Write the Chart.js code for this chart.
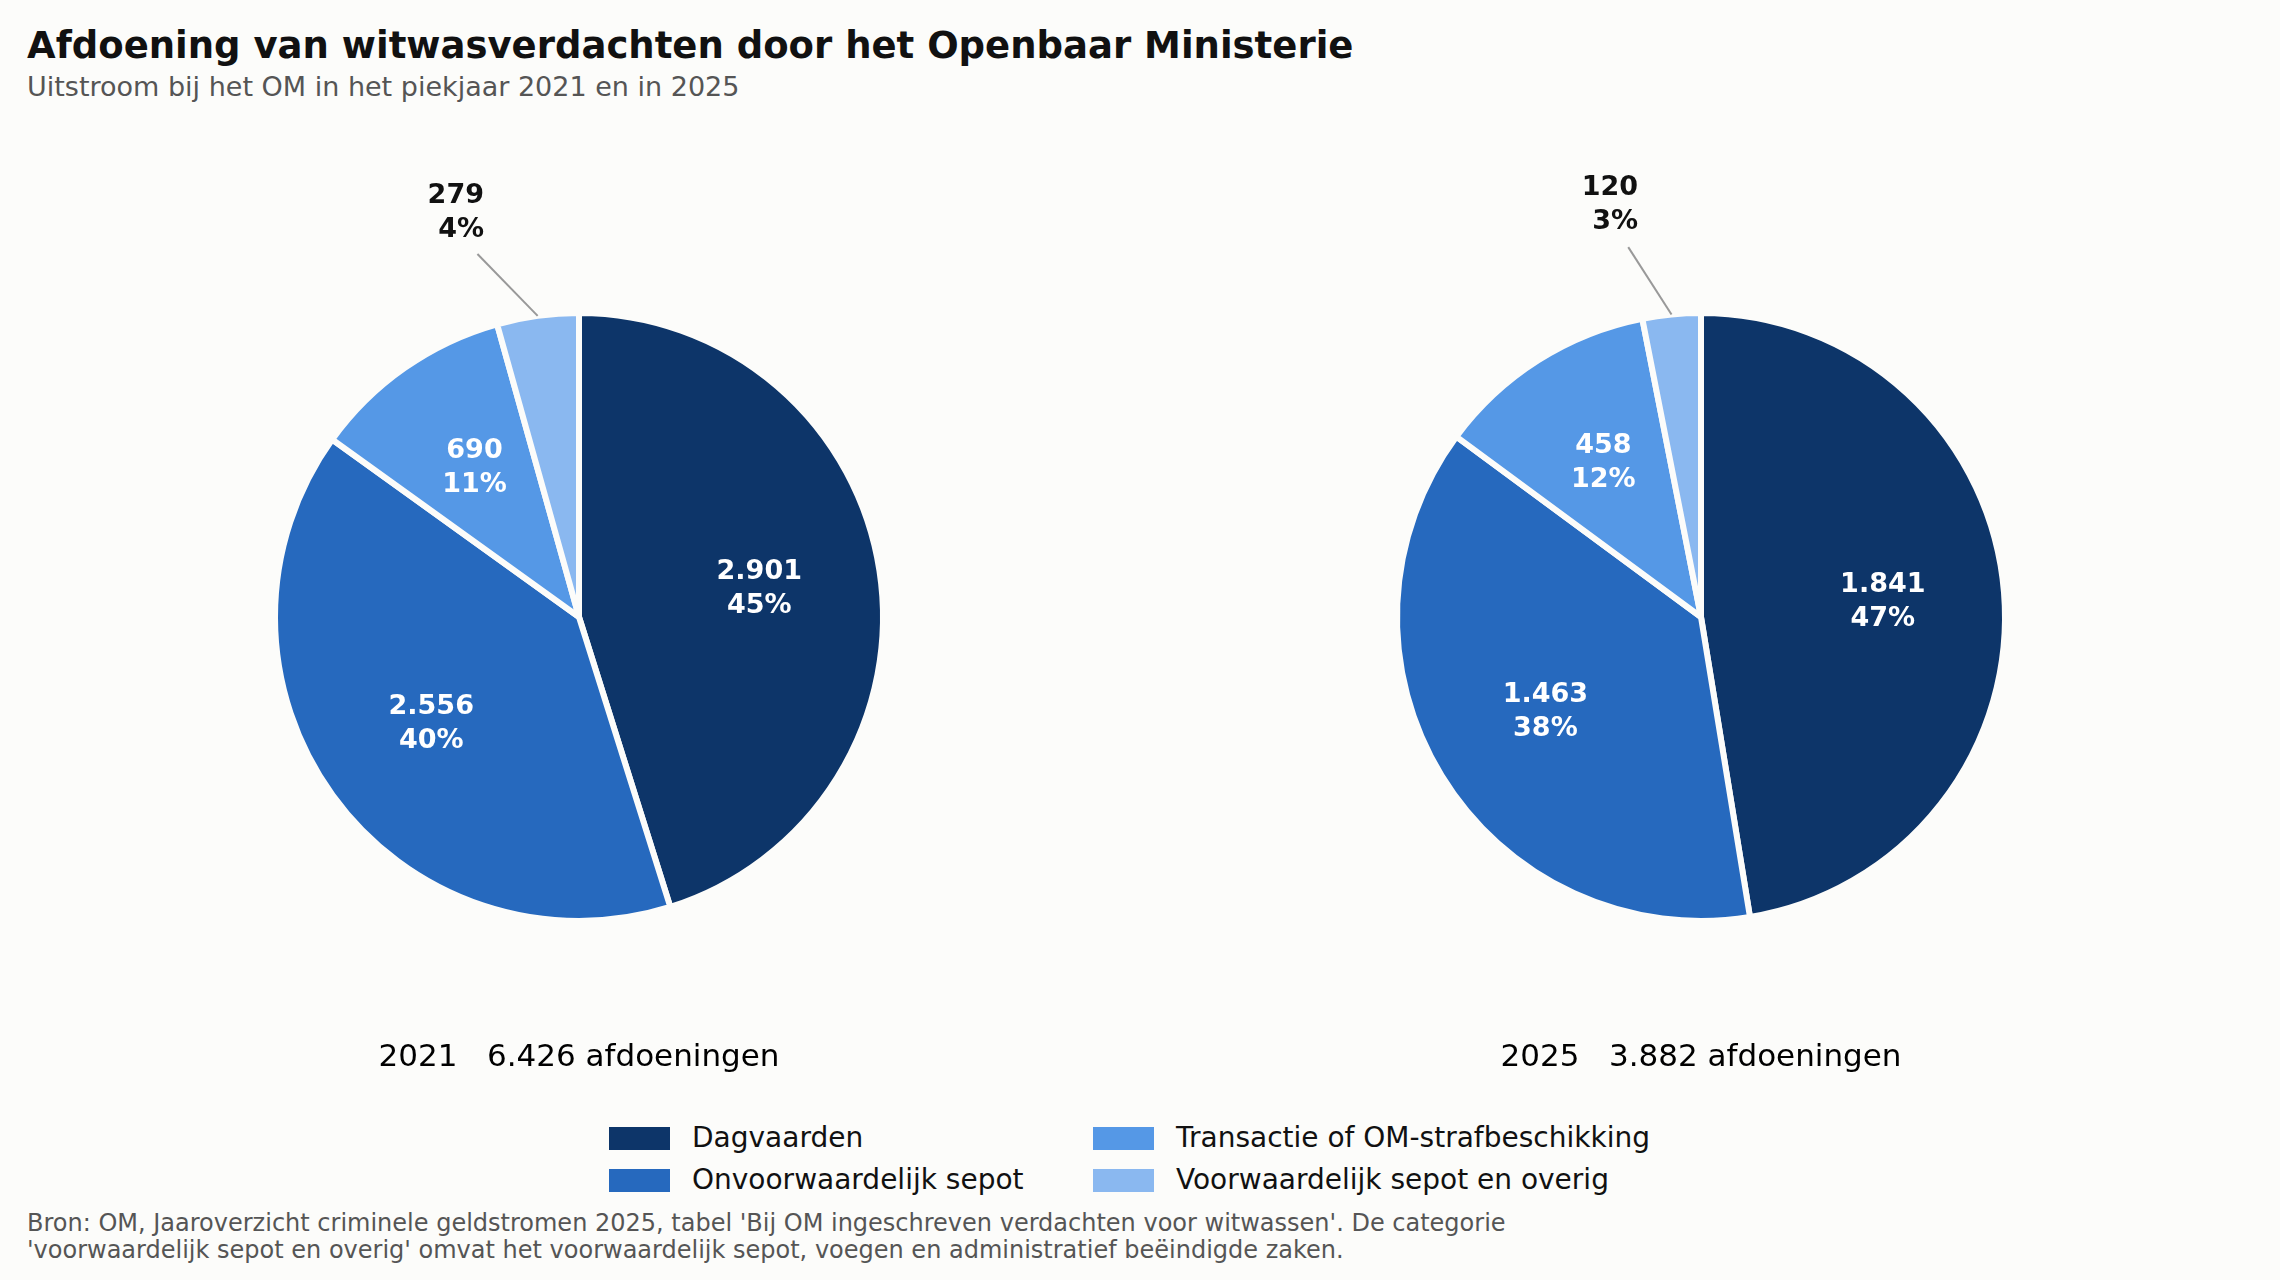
<!DOCTYPE html>
<html><head><meta charset="utf-8">
<script src="https://cdn.jsdelivr.net/npm/chart.js@4"></script>
<style>
body{margin:0;background:#fcfcfa;font-family:"DejaVu Sans",sans-serif;width:2280px;height:1280px;position:relative;overflow:hidden}
.abs{position:absolute;white-space:nowrap}
.box{position:absolute;width:1000px;height:1000px}
.sw{position:absolute;width:61px;height:23px}
</style></head><body>
<div class="abs" style="left:27px;top:24px;font-size:37px;font-weight:bold;color:#111">Afdoening van witwasverdachten door het Openbaar Ministerie</div>
<div class="abs" style="left:27px;top:71px;font-size:27px;color:#555">Uitstroom bij het OM in het piekjaar 2021 en in 2025</div>
<div class="box" style="left:79px;top:117px"><canvas id="c1"></canvas></div>
<div class="box" style="left:1201px;top:117px"><canvas id="c2"></canvas></div>
<div class="abs" id="cap1" style="left:579px;top:1037px;font-size:31px;transform:translateX(-50%)"></div>
<div class="abs" id="cap2" style="left:1701px;top:1037px;font-size:31px;transform:translateX(-50%)"></div>
<div id="legend"></div>
<div class="abs" style="left:27px;top:1210px;font-size:24px;color:#555;line-height:27px">Bron: OM, Jaaroverzicht criminele geldstromen 2025, tabel 'Bij OM ingeschreven verdachten voor witwassen'. De categorie<br>'voorwaardelijk sepot en overig' omvat het voorwaardelijk sepot, voegen en administratief beëindigde zaken.</div>
<script>
const categories = ['Dagvaarden', 'Onvoorwaardelijk sepot', 'Transactie of OM-strafbeschikking', 'Voorwaardelijk sepot en overig'];
const values2021 = [2901, 2556, 690, 279];
const values2025 = [1841, 1463, 458, 120];
const colors = ['#0d3569', '#2669be', '#5598e6', '#8ab8f0'];
const textColors = ['#fff', '#fff', '#fff', '#111'];

const fmt = (n) => n.toLocaleString('de-DE');

const labelPlugin = {
  id: 'sliceLabels',
  afterDatasetsDraw(chart) {
    const ctx = chart.ctx;
    const data = chart.data.datasets[0].data;
    const total = data.reduce((s, v) => s + v, 0);
    chart.getDatasetMeta(0).data.forEach((arc, i) => {
      const { x, y, outerRadius, startAngle, endAngle } = arc.getProps(['x', 'y', 'outerRadius', 'startAngle', 'endAngle'], true);
      const mid = (startAngle + endAngle) / 2;
      const pct = Math.round(data[i] / total * 100) + '%';
      ctx.save();
      ctx.font = 'bold 27px "DejaVu Sans"';
      ctx.textAlign = 'center';
      ctx.textBaseline = 'middle';
      if (data[i] / total > 0.05) {
        const tx = x + Math.cos(mid) * outerRadius * 0.6;
        const ty = y + Math.sin(mid) * outerRadius * 0.6;
        ctx.fillStyle = '#fff';
        ctx.fillText(fmt(data[i]), tx, ty - 17);
        ctx.fillText(pct, tx, ty + 17);
      } else {
        const off = mid - (-Math.PI / 2);
        const a2 = -Math.PI / 2 + off * 2;
        ctx.strokeStyle = '#999';
        ctx.lineWidth = 2;
        ctx.beginPath();
        ctx.moveTo(x + Math.cos(mid) * outerRadius * 1.0, y + Math.sin(mid) * outerRadius * 1.0);
        ctx.lineTo(x + Math.cos(a2) * outerRadius * 1.24, y + Math.sin(a2) * outerRadius * 1.24);
        ctx.stroke();
        const tx = x + Math.cos(a2) * outerRadius * 1.38;
        const ty = y + Math.sin(a2) * outerRadius * 1.38;
        ctx.fillStyle = '#111';
        ctx.textAlign = 'right';
        ctx.fillText(fmt(data[i]), tx + 18, ty - 17);
        ctx.fillText(pct, tx + 18, ty + 17);
      }
      ctx.restore();
    });
  }
};

function makePie(id, values) {
  new Chart(document.getElementById(id), {
    type: 'pie',
    data: { labels: categories, datasets: [{ data: values, backgroundColor: colors, borderColor: '#fcfcfa', borderWidth: 6 }] },
    options: {
      responsive: false, animation: false,
      layout: { padding: 193 },
      plugins: { legend: { display: false }, tooltip: { enabled: false } }
    },
    plugins: [labelPlugin]
  });
}
document.getElementById('c1').width = 1000; document.getElementById('c1').height = 1000;
document.getElementById('c2').width = 1000; document.getElementById('c2').height = 1000;
makePie('c1', values2021);
makePie('c2', values2025);

const sum = (a) => a.reduce((s, v) => s + v, 0);
document.getElementById('cap1').innerHTML = '2021&nbsp;&nbsp;&nbsp;' + fmt(sum(values2021)) + ' afdoeningen';
document.getElementById('cap2').innerHTML = '2025&nbsp;&nbsp;&nbsp;' + fmt(sum(values2025)) + ' afdoeningen';

const legendPos = [[609, 1127], [609, 1169], [1093, 1127], [1093, 1169]];
const legend = document.getElementById('legend');
categories.forEach((name, i) => {
  const [lx, ly] = legendPos[i];
  legend.innerHTML += `<div class="sw" style="left:${lx}px;top:${ly}px;background:${colors[i]}"></div>` +
    `<div class="abs" style="left:${lx + 83}px;top:${ly - 6}px;font-size:28px;color:#111">${name}</div>`;
});
</script>
</body></html>
